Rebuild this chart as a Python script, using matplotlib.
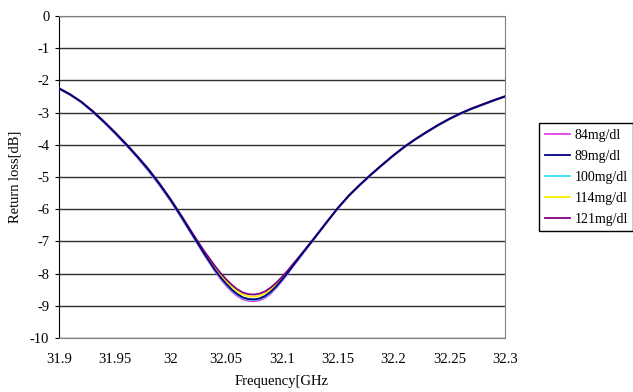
import matplotlib
matplotlib.use("Agg")
import matplotlib.pyplot as plt
from matplotlib.ticker import FormatStrFormatter

plt.rcParams["font.family"] = ["Liberation Serif", "DejaVu Serif"]
plt.rcParams["axes.unicode_minus"] = False

# frequency [GHz]
freq = [31.90, 31.91, 31.92, 31.93, 31.94, 31.95, 31.96, 31.97, 31.98, 31.99,
        32.00, 32.01, 32.02, 32.03, 32.04, 32.045, 32.05, 32.055, 32.06, 32.065,
        32.07, 32.075, 32.08, 32.085, 32.09, 32.095, 32.10, 32.105, 32.11, 32.12,
        32.13, 32.14, 32.15, 32.16, 32.17, 32.18, 32.19, 32.20, 32.21, 32.22,
        32.23, 32.24, 32.25, 32.26, 32.27, 32.28, 32.29, 32.30]

# return loss [dB] per glucose level
rl_84 = [-2.26, -2.45, -2.68, -2.97, -3.29, -3.64, -4.00, -4.39, -4.80, -5.25,
         -5.74, -6.28, -6.84, -7.40, -7.93, -8.17, -8.38, -8.56, -8.70, -8.80,
         -8.85, -8.86, -8.83, -8.75, -8.62, -8.44, -8.23, -8.01, -7.77, -7.32,
         -6.87, -6.42, -5.98, -5.59, -5.25, -4.93, -4.63, -4.34, -4.07, -3.83,
         -3.61, -3.40, -3.21, -3.04, -2.89, -2.76, -2.63, -2.51]
rl_89 = [-2.25, -2.44, -2.67, -2.96, -3.28, -3.62, -3.98, -4.36, -4.77, -5.22,
         -5.71, -6.25, -6.81, -7.37, -7.89, -8.12, -8.32, -8.50, -8.64, -8.74,
         -8.79, -8.80, -8.77, -8.69, -8.56, -8.39, -8.19, -7.98, -7.75, -7.30,
         -6.86, -6.41, -5.97, -5.58, -5.24, -4.92, -4.62, -4.33, -4.06, -3.82,
         -3.60, -3.39, -3.20, -3.03, -2.88, -2.75, -2.62, -2.50]
rl_100 = [-2.26, -2.45, -2.68, -2.96, -3.29, -3.63, -3.99, -4.38, -4.79, -5.24,
          -5.73, -6.27, -6.83, -7.38, -7.90, -8.14, -8.34, -8.52, -8.66, -8.76,
          -8.81, -8.82, -8.79, -8.71, -8.58, -8.41, -8.20, -7.99, -7.76, -7.31,
          -6.87, -6.42, -5.98, -5.59, -5.25, -4.93, -4.63, -4.34, -4.07, -3.83,
          -3.61, -3.40, -3.21, -3.04, -2.89, -2.76, -2.63, -2.51]
rl_114 = [-2.25, -2.44, -2.67, -2.95, -3.27, -3.61, -3.97, -4.35, -4.76, -5.21,
          -5.70, -6.24, -6.79, -7.33, -7.83, -8.05, -8.25, -8.42, -8.56, -8.66,
          -8.71, -8.72, -8.69, -8.61, -8.49, -8.33, -8.14, -7.94, -7.72, -7.29,
          -6.85, -6.41, -5.97, -5.58, -5.24, -4.92, -4.62, -4.33, -4.06, -3.82,
          -3.60, -3.39, -3.20, -3.03, -2.88, -2.75, -2.62, -2.50]
rl_121 = [-2.24, -2.43, -2.66, -2.94, -3.26, -3.60, -3.96, -4.34, -4.74, -5.19,
          -5.68, -6.21, -6.76, -7.29, -7.77, -7.99, -8.18, -8.35, -8.49, -8.59,
          -8.64, -8.65, -8.62, -8.55, -8.43, -8.28, -8.10, -7.91, -7.70, -7.28,
          -6.84, -6.40, -5.96, -5.57, -5.23, -4.91, -4.61, -4.32, -4.05, -3.81,
          -3.59, -3.38, -3.19, -3.02, -2.87, -2.74, -2.61, -2.49]

labels = ["84mg/dl", "89mg/dl", "100mg/dl", "114mg/dl", "121mg/dl"]
colors = ["#e040e0", "#000080", "#30e0f0", "#f8f000", "#800080"]
zorders = [2, 6, 3, 4, 5]

x_ticks = [31.9, 31.95, 32.0, 32.05, 32.1, 32.15, 32.2, 32.25, 32.3]
y_ticks = [0, -1, -2, -3, -4, -5, -6, -7, -8, -9, -10]

fig = plt.figure(figsize=(6.33, 3.92), dpi=100)
ax = fig.add_axes([59 / 633, 1 - 338 / 392, 446 / 633, 322 / 392])

series = [rl_84, rl_89, rl_100, rl_114, rl_121]
for vals, lab, col, z in zip(series, labels, colors, zorders):
    ax.plot(freq, vals, color=col, lw=1.3, label=lab, zorder=z)

ax.set_xlim(31.9, 32.3)
ax.set_ylim(-10, 0)
ax.set_xticks(x_ticks)
ax.set_yticks(y_ticks)
ax.xaxis.set_major_formatter(FormatStrFormatter("%g"))
ax.yaxis.set_major_formatter(FormatStrFormatter("%g"))
ax.tick_params(axis="x", length=0, pad=11, labelsize=10.5)
ax.tick_params(axis="y", length=3, pad=4, labelsize=10.5, direction="out")

ax.grid(axis="y", color="#303030", lw=1)
ax.set_axisbelow(True)
for side in ["top", "right", "bottom"]:
    ax.spines[side].set_color("#808080")
ax.spines["left"].set_color("black")

ax.set_xlabel("Frequency[GHz", fontsize=10.5, labelpad=6)
ax.set_ylabel("Return loss[dB]", fontsize=10.5, labelpad=6)

fig.legend(loc="upper left", bbox_to_anchor=(539 / 633, 1 - 123 / 392),
           fontsize=10, frameon=True, fancybox=False, edgecolor="black",
           framealpha=1, handlelength=1.8, handletextpad=0.35,
           borderpad=0.4, labelspacing=0.58, borderaxespad=0)

fig.savefig("out.png", dpi=100)
